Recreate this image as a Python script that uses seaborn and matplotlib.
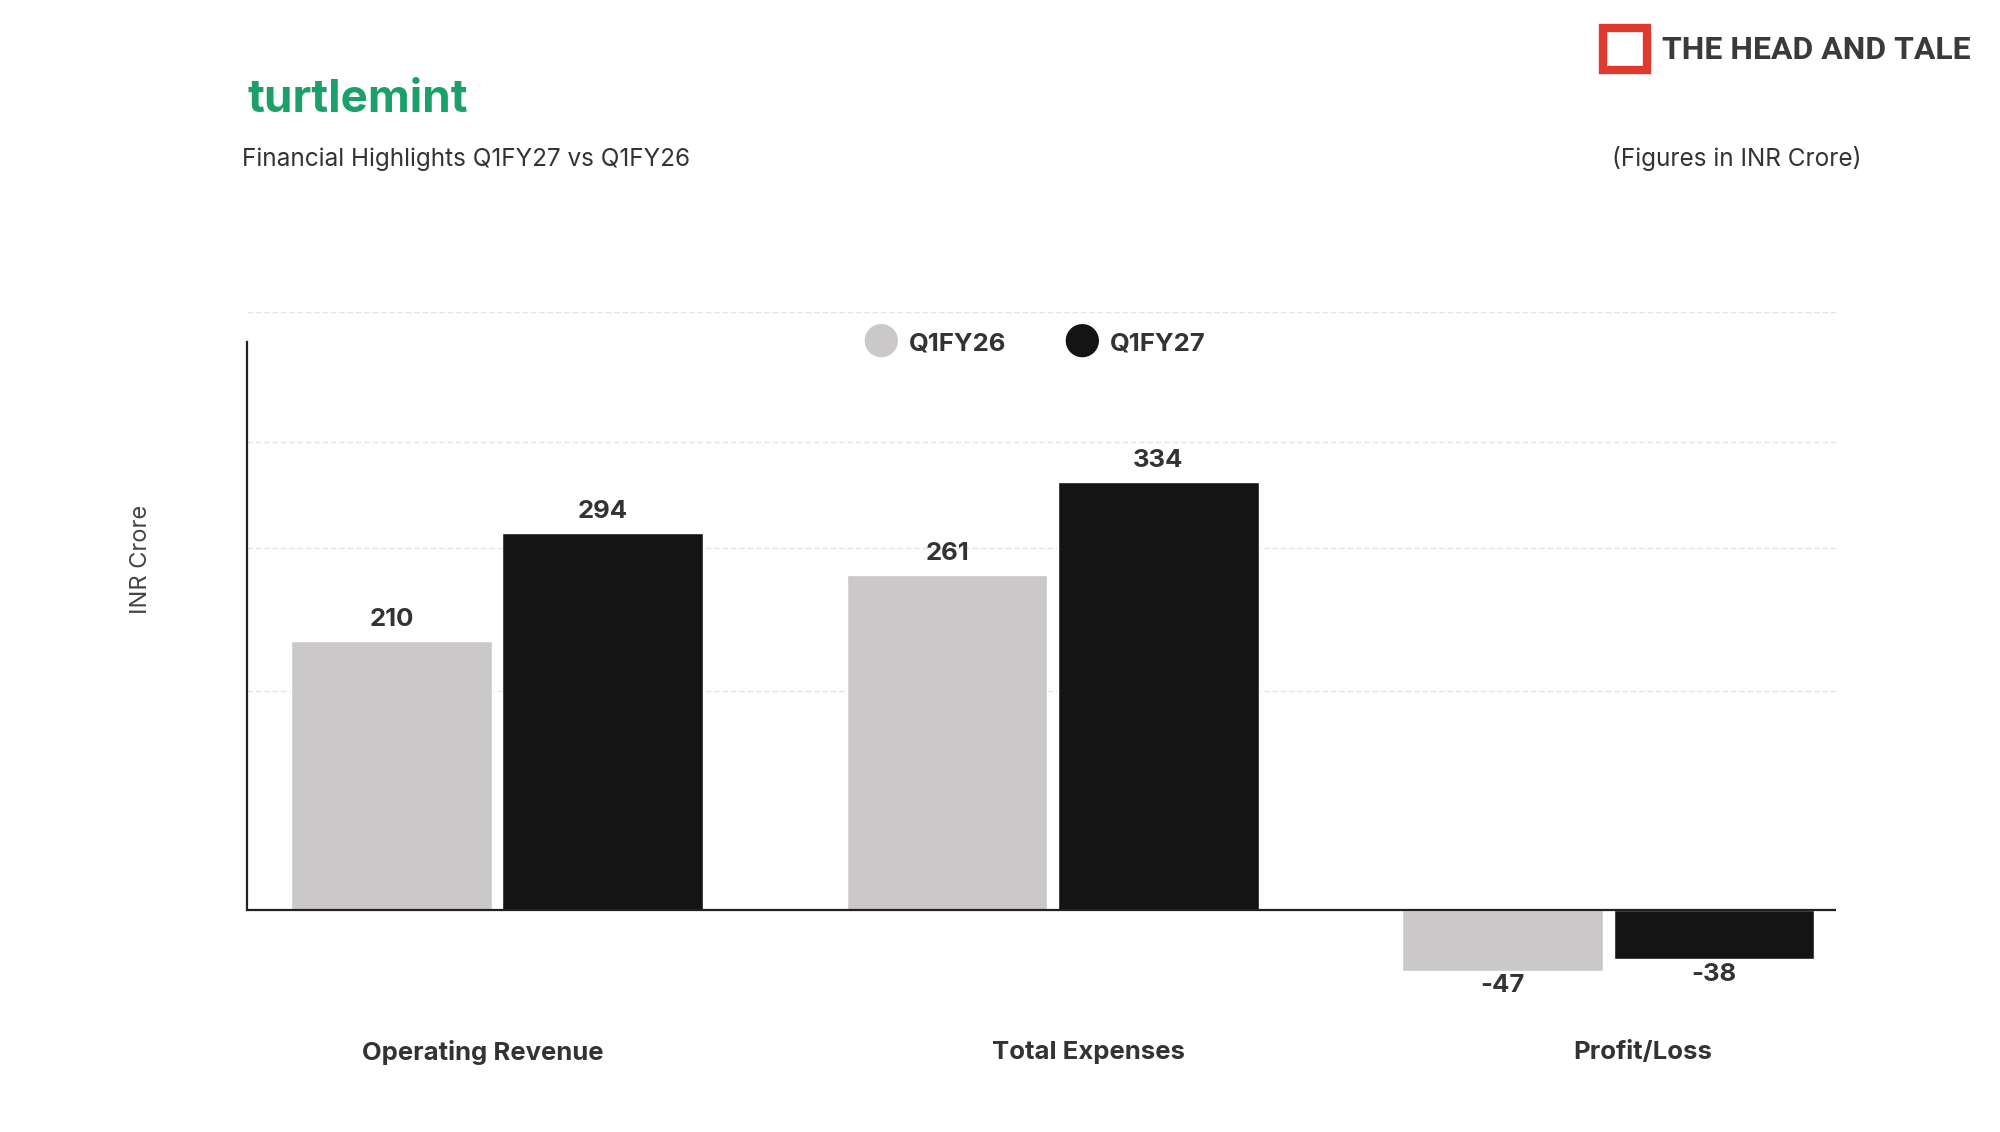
import numpy as np
import pandas as pd
import seaborn as sns
import matplotlib.pyplot as plt
from matplotlib.patches import Rectangle

categories = ['Operating Revenue', 'Total Expenses', 'Profit/Loss']
q1fy26 = [210, 261, -47]
q1fy27 = [294, 334, -38]
periods = ['Q1FY26', 'Q1FY27']
colors = ['#cac8c8', '#141414']
grid_vals = [171, 282, 365, 466]
label_x = [-0.025, 0.065, 0.062]  # small offsets of category labels

df = pd.DataFrame({
    'Category': categories * 2,
    'Period': [periods[0]] * 3 + [periods[1]] * 3,
    'Value': q1fy26 + q1fy27,
})

sns.set_style('white')
plt.rcParams['font.family'] = ['Inter', 'DejaVu Sans']

W, H = 1562, 884
fig = plt.figure(figsize=(20, 11.32), dpi=100)
ax = fig.add_axes([193 / W, 1 - 800 / H, (1434 - 193) / W, (800 - 244) / H])

sns.barplot(data=df, x='Category', y='Value', hue='Period', palette=colors,
            width=0.76, gap=0.05, ax=ax, legend=False, zorder=3)
ax.set_ylim(-89, 466)
ax.set_xlim(-0.45, 2.41)

for g in grid_vals:
    ax.axhline(g, color='#e4e4e4', lw=1, ls=(0, (4, 2)), zorder=0)
ax.axhline(0, color='#222222', lw=1.6, zorder=4)

for cont in ax.containers:
    for bar in cont:
        v = bar.get_height()
        x = bar.get_x() + bar.get_width() / 2
        if v >= 0:
            ax.text(x, v + 8, f'{v:.0f}', ha='center', va='bottom',
                    fontsize=18.5, fontweight='bold', color='#333333')
        else:
            ax.text(x, v - 3, f'{v:.0f}', ha='center', va='top',
                    fontsize=18.5, fontweight='bold', color='#333333')

for s in ['top', 'right', 'bottom']:
    ax.spines[s].set_visible(False)
ax.spines['left'].set_bounds(0, 443)
ax.spines['left'].set_color('#222222')
ax.spines['left'].set_linewidth(1.6)
ax.set_yticks([])
ax.set_xticks([])
ax.set_xlabel('')
ax.set_ylabel('')
fig.text(110 / W, 1 - 437 / H, 'INR Crore', rotation=90, fontsize=17,
         color='#444444', ha='center', va='center')
for i, c in enumerate(categories):
    ax.text(i + label_x[i], -111, c, ha='center', va='center', fontsize=18.5,
            fontweight='bold', color='#333333', clip_on=False)

# legend
for i, (p, c) in enumerate(zip(periods, colors)):
    fx = (688 + i * 157) / W
    fig.text(fx, 1 - 269 / H, '●', fontsize=32, color=c, ha='center', va='center')
    fig.text(fx + 22 / W, 1 - 269 / H, p, fontsize=18.5, fontweight='bold',
             color='#333333', va='center')

fig.text(193 / W, 1 - 78 / H, 'turtlemint', fontsize=33, fontweight='bold',
         color='#1aa068', va='center')
fig.text(189 / W, 1 - 124 / H, 'Financial Highlights Q1FY27 vs Q1FY26',
         fontsize=17.5, color='#333333', va='center')
fig.text(1454 / W, 1 - 124 / H, '(Figures in INR Crore)', fontsize=17.5,
         color='#333333', va='center', ha='right')
fig.patches.append(Rectangle((1252 / W, 1 - 55 / H), 34 / W, 33 / H,
                             transform=fig.transFigure, fill=False,
                             ec='#e03a2f', lw=6))
fig.text(1298 / W, 1 - 39 / H, 'THE HEAD AND TALE', fontsize=23,
         fontweight='bold', color='#3a3a3a', va='center',
         family=['Roboto', 'DejaVu Sans'])

fig.savefig('out.png', dpi=100, facecolor='white')
